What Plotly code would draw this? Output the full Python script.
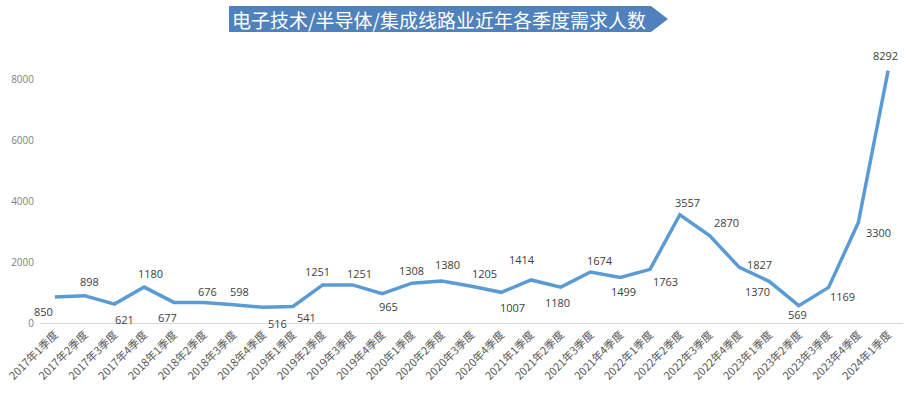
import plotly.graph_objects as go

quarters = ["2017年1季度", "2017年2季度", "2017年3季度", "2017年4季度",
            "2018年1季度", "2018年2季度", "2018年3季度", "2018年4季度",
            "2019年1季度", "2019年2季度", "2019年3季度", "2019年4季度",
            "2020年1季度", "2020年2季度", "2020年3季度", "2020年4季度",
            "2021年1季度", "2021年2季度", "2021年3季度", "2021年4季度",
            "2022年1季度", "2022年2季度", "2022年3季度", "2022年4季度",
            "2023年1季度", "2023年2季度", "2023年3季度", "2023年4季度",
            "2024年1季度"]
demand = [850, 898, 621, 1180,
          677, 676, 598, 516,
          541, 1251, 1251, 965,
          1308, 1380, 1205, 1007,
          1414, 1180, 1674, 1499,
          1763, 3557, 2870, 1827,
          1370, 569, 1169, 3300,
          8292]
y_ticks = [0, 2000, 4000, 6000, 8000]
title_text = "电子技术/半导体/集成线路业近年各季度需求人数"

# label offsets in pixels (dx right, dy down) -- styling only
label_dx = [-11, 5, 10, 6, -6, 4, 6, 14, 14, -5, 7, 6, 0, 6, 13, 11,
            -9, -3, 9, 3, 15, 8, 17, 20, -12, -1, 14, 20, -3]
label_dy = [14, -14, 15, -14, 15, -11, -13, 16, 11, -13, -11, 13, -13, -16, -13, 15,
            -20, 15, -12, 14, 12, -12, -13, -3, 10, 9, 9, 10, -15]

W, H = 910, 394
ML, MR, MT, MB = 40, 7, 49, 71
PW, PH = W - ML - MR, H - MT - MB


def px(x):
    return (x - ML) / PW


def py(y):
    return (H - MB - y) / PH


fig = go.Figure()
fig.add_trace(go.Scatter(
    x=quarters, y=demand, mode="lines",
    line=dict(color="#5B9BD5", width=3.5),
    hoverinfo="skip", showlegend=False,
))

for q, v, dx, dy in zip(quarters, demand, label_dx, label_dy):
    fig.add_annotation(x=q, y=v, xref="x", yref="y", text=str(v), showarrow=False,
                       xshift=dx, yshift=-dy, xanchor="center", yanchor="middle",
                       font=dict(family="Open Sans, Arial, sans-serif", size=11, color="#404040"))

# title banner (arrow shape)
path = "M {a},{t} L {b},{t} L {c},{m} L {b},{bt} L {a},{bt} Z".format(
    a=px(229), b=px(651), c=px(668), t=py(6), m=py(19), bt=py(32))
fig.add_shape(type="path", path=path, xref="paper", yref="paper",
              fillcolor="#4F81BD", line=dict(width=0), layer="above")
fig.add_annotation(x=px(439), y=py(19.5), xref="paper", yref="paper",
                   text=title_text, showarrow=False,
                   font=dict(family="Noto Sans CJK SC", size=19, color="white"),
                   xanchor="center", yanchor="middle")

fig.update_layout(
    width=W, height=H,
    margin=dict(l=ML, r=MR, t=MT, b=MB, autoexpand=False),
    paper_bgcolor="white", plot_bgcolor="white",
    font=dict(family="Noto Sans CJK SC", color="#595959"),
    xaxis=dict(type="category", tickangle=-45, showgrid=False, showline=True,
               linecolor="#D9D9D9", linewidth=1, ticks="", automargin=False,
               tickfont=dict(size=11, color="#595959"), range=[-0.5, 28.5]),
    yaxis=dict(range=[0, 9000], tickvals=y_ticks, showgrid=False, zeroline=False,
               showline=False, ticks="", automargin=False, ticklabelstandoff=5,
               tickfont=dict(family="Open Sans, Arial, sans-serif", size=10, color="#7F7F7F")),
)

fig.write_html("out.html", config={"displayModeBar": False},
               post_script="document.body.style.margin='0';")
